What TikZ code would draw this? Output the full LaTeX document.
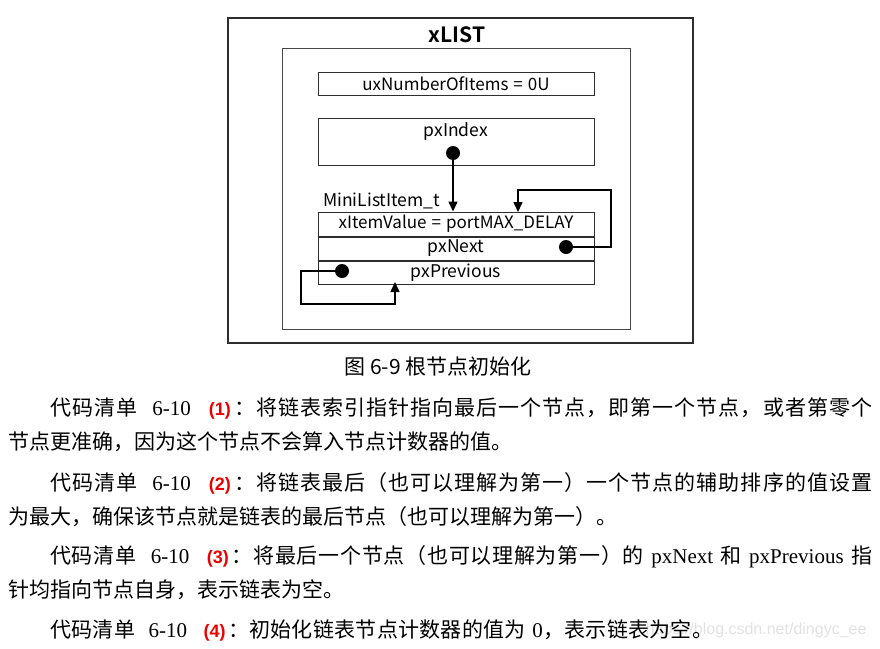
\documentclass[tikz,border=0pt]{standalone}
\usepackage{fontspec}
\usepackage{xcolor}
\usepackage{tikz}
\usetikzlibrary{arrows.meta, positioning}
\setmainfont{Liberation Serif}
\newfontfamily\cjk{Noto Sans CJK SC}[BoldFont={Noto Sans CJK SC Bold}]
\newfontfamily\tagfont{Liberation Sans}
\definecolor{boxgray}{RGB}{45,45,45}
\definecolor{framegray}{RGB}{70,70,70}
\definecolor{tagred}{RGB}{235,0,0}
\definecolor{markgray}{RGB}{225,225,225}
\newcommand{\codetag}[1]{{\tagfont\bfseries\fontsize{18}{20}\selectfont\color{tagred}(#1)}\hspace{2pt}}
\newcommand{\spread}[1]{#1\spreadnext}
\newcommand{\spreadnext}[1]{\ifx\relax#1\else\hskip 0pt plus 1fil{#1}\expandafter\spreadnext\fi}
\newcommand{\eq}{\hspace{5pt}=\hspace{5pt}}

\begin{document}
\begin{tikzpicture}[
  x=1pt, y=-1pt,
  field/.style={draw=boxgray, line width=1pt, minimum width=276pt, inner sep=0pt,
    font=\cjk\fontsize{17}{20}\selectfont},
  ptr/.style={circle, fill=black, inner sep=0pt, minimum size=14pt},
  link/.style={-{Triangle[length=10pt, width=9pt]}, line width=1.5pt},
  body/.style={anchor=west, inner sep=0pt, font=\cjk\fontsize{21}{25}\selectfont}
]
  \useasboundingbox (0,0) rectangle (880,648);
  \node[draw=boxgray, line width=1.5pt, minimum width=465pt, minimum height=325pt] (xlist) at (460.5,180.5) {};
  \node[font=\cjk\bfseries\fontsize{21}{24}\selectfont] (title) at (457,35) {xLIST};
  \node[draw=framegray, line width=1pt, minimum width=348pt, minimum height=281pt] (inner) at (456,188.5) {};
  \node[field, minimum height=23pt] (count) at (456,83.5) {uxNumberOfItems\eq 0U};
  \node[field, minimum height=47pt] (index) at (456,141.5) {};
  \node[font=\cjk\fontsize{17.5}{20}\selectfont] (indexlbl) at (456,132) {pxIndex};
  \node[anchor=west, inner sep=0pt, font=\cjk\fontsize{17.5}{20}\selectfont] (itemlbl) at (323,201) {MiniListItem\_t};
  \node[field, minimum height=24pt] (value) at (456,224) {xItemValue\eq portMAX\_DELAY};
  \node[field, minimum height=23pt, font=\cjk\fontsize{17.5}{20}\selectfont, below=0pt of value] (next) {pxNext};
  \node[field, minimum height=23pt, font=\cjk\fontsize{17.5}{20}\selectfont, below=0pt of next] (prev) {pxPrevious};
  \node[ptr] (idxdot) at (453,153) {};
  \node[ptr] (nextdot) at (566,247) {};
  \node[ptr] (prevdot) at (342,271) {};
  \coordinate (nextturn) at (611,190);
  \coordinate (nexttip) at (518,212);
  \coordinate (prevturn) at (301,304);
  \coordinate (prevtip) at (395,282);
  \draw[link] (idxdot.center) -- (idxdot.center |- value.north);
  \draw[link] (nextdot.center) -| (nextturn) -| (nexttip);
  \draw[link] (prevdot.center) -| (prevturn) -| (prevtip);
  \node[font=\cjk\fontsize{21}{23}\selectfont] (caption) at (438,367) {图 6-9 根节点初始化};

  \node[anchor=east, text=markgray, font=\tagfont\fontsize{16}{18}\selectfont] (mark) at (870,630) {https://blog.csdn.net/dingyc\_ee};
  \node[body] (line1) at (50,408) {\hbox to 822pt{\spread 代码清单{\hspace{13pt}}{\rmfamily 6-10}{\hspace{16pt}}{\codetag{1}}：将链表索引指针指向最后一个节点，即第一个节点，或者第零个\relax}};
  \node[body] (line2) at (8,442) {节点更准确，因为这个节点不会算入节点计数器的值。};
  \node[body] (line3) at (50,483) {\hbox to 822pt{\spread 代码清单{\hspace{13pt}}{\rmfamily 6-10}{\hspace{16pt}}{\codetag{2}}：将链表最后（也可以理解为第一）一个节点的辅助排序的值设置\relax}};
  \node[body] (line4) at (8,517) {为最大，确保该节点就是链表的最后节点（也可以理解为第一）。};
  \node[body] (line5) at (50,557) {\hbox to 822pt{\spread 代码清单{\hspace{13pt}}{\rmfamily 6-10}{\hspace{16pt}}{\codetag{3}}：将最后一个节点（也可以理解为第一）的{\hspace{6pt}}{\rmfamily pxNext}{\hspace{6pt}}和{\hspace{6pt}}{\rmfamily pxPrevious}{\hspace{6pt}}指\relax}};
  \node[body] (line6) at (8,590) {针均指向节点自身，表示链表为空。};
  \node[body] (line7) at (50,630) {\hbox to 663pt{\spread 代码清单{\hspace{13pt}}{\rmfamily 6-10}{\hspace{16pt}}{\codetag{4}}：初始化链表节点计数器的值为{\hspace{6pt}}{\rmfamily 0}，表示链表为空。\relax}};
\end{tikzpicture}
\end{document}
